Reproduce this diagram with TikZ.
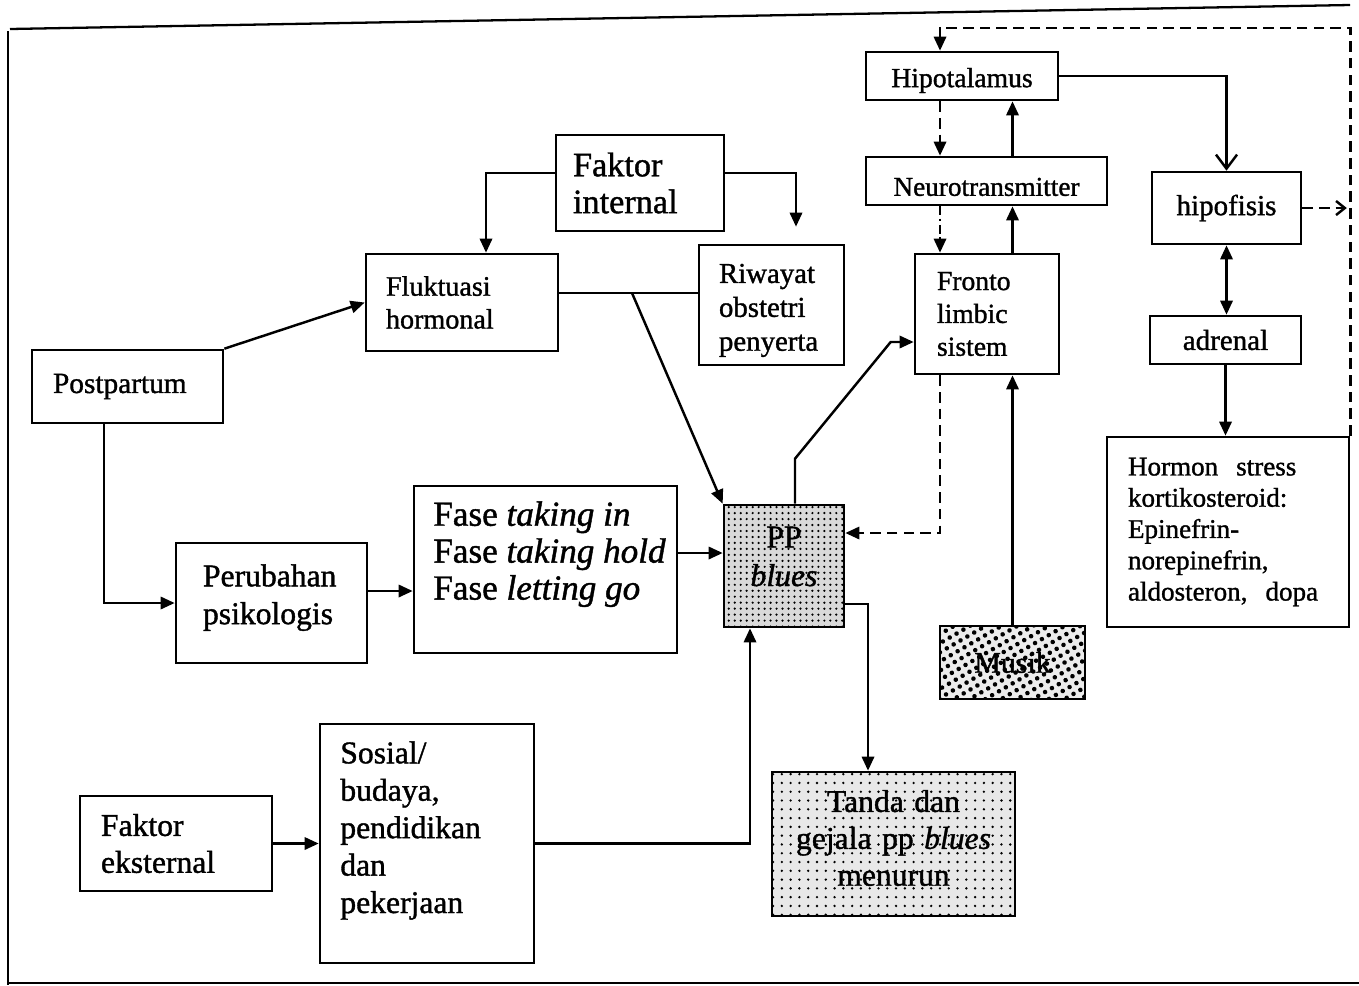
\documentclass[tikz,border=0pt]{standalone}
\usepackage{fontspec}
\setmainfont{Liberation Serif}[UprightFeatures={FakeBold=1.2},ItalicFeatures={FakeBold=1.2}]
\usetikzlibrary{arrows.meta,patterns.meta}
\newcommand\fsz[2]{\fontsize{#1}{#2}\selectfont}
\newcommand\mybox[8][]{%
 \pgfmathsetlengthmacro\bxw{(#5-#3-2*#7)*0.02cm}%
 \pgfmathsetlengthmacro\bxp{#7*0.02cm}%
 \pgfmathsetlengthmacro\bxh{(#6-#4)*0.02cm}%
 \node[box,text width=\bxw,inner xsep=\bxp,minimum height=\bxh,#1] (#2) at ({(#3+#5)/2},{(#4+#6)/2}) {#8};}
\tikzset{
 box/.style={draw, line width=1.5pt, inner ysep=0pt, align=left, fill=white},
 txt/.style={inner sep=0pt, align=left},
 conn/.style={line width=1.4pt},
 arr/.style={conn, -{Triangle[length=8pt,width=7pt]}},
 arrb/.style={conn, {Triangle[length=8pt,width=7pt]}-{Triangle[length=8pt,width=7pt]}},
 openarr/.style={conn, -{Straight Barb[length=8pt,width=12pt,line width=1.4pt]}},
 openarrs/.style={conn, -{Straight Barb[length=5pt,width=8pt,line width=1.4pt]}},
 dsh/.style={dash pattern=on 6pt off 3.5pt},
 ppfill/.style={fill=gray!30, postaction={pattern={Dots[distance=3.4pt,radius=0.7pt]},pattern color=black}},
 mufill/.style={fill=gray!15, postaction={pattern={Dots[distance=4.5pt,radius=1.3pt,angle=30]},pattern color=black}},
 tafill/.style={fill=gray!18, postaction={pattern={Dots[distance=5pt,radius=0.75pt]},pattern color=black}},
}
\begin{document}
\begin{tikzpicture}[x=0.02cm,y=-0.02cm]
\useasboundingbox (0,0) rectangle (1359,985);
% frame
\draw[line width=1.3pt] (10,29) -- (1350,5);
\draw[line width=1.3pt] (8,31) -- (8,985);
\draw[line width=0.9pt] (8,983) -- (1359,983);
% boxes
\mybox[font=\fsz{15.75}{18}, align=center]{hipo}{866}{52}{1058}{100}{4}{\rule{0pt}{16pt}Hipotalamus}
\mybox[font=\fsz{15.5}{18}, align=center]{neuro}{866}{157}{1107}{205}{4}{\rule{0pt}{17pt}Neurotransmitter}
\mybox[font=\fsz{16.5}{19}, align=center]{hipof}{1152}{172}{1301}{244}{4}{hipofisis}
\mybox[font=\fsz{16.5}{19}, align=center]{adr}{1150}{316}{1301}{364}{4}{adrenal}
\mybox[font=\fsz{15.4}{17.8}]{horm}{1107}{437}{1349}{627}{21}{Hormon\ \ stress\\kortikosteroid:\\Epinefrin-\\norepinefrin,\\aldosteron,\ \ dopa}
\mybox[font=\fsz{15.7}{18.7}]{fronto}{915}{254}{1059}{374}{22}{Fronto\\limbic\\sistem}
\mybox[font=\fsz{19.5}{21}]{fint}{556}{135}{724}{231}{17}{Faktor\\internal}
\mybox[font=\fsz{16}{18.7}]{fluk}{366}{254}{558}{351}{20}{Fluktuasi\\hormonal}
\mybox[font=\fsz{16.4}{19.3}]{riw}{699}{245}{844}{365}{20}{\rule{0pt}{17pt}Riwayat\\obstetri\\penyerta}
\mybox[font=\fsz{16.7}{19}]{post}{32}{350}{223}{423}{21}{Postpartum}
\mybox[font=\fsz{18}{21.5}]{peru}{176}{543}{367}{663}{27}{Perubahan\\psikologis\rule[-10pt]{0pt}{0pt}}
\mybox{fase}{414}{486}{677}{653}{19}{}
\node[txt, font=\fsz{20}{21}, anchor=north west] (faseT) at (433,501) {Fase \textit{taking in}\\Fase \textit{taking hold}\\Fase \textit{letting go}};
\mybox[font=\fsz{18}{21}]{fext}{80}{796}{272}{891}{21}{Faktor\\eksternal}
\mybox{sos}{320}{724}{534}{963}{20}{}
\node[txt, font=\fsz{18}{21.3}, anchor=north west] (sosT) at (340,741) {Sosial/\\budaya,\\pendidikan\\dan\\pekerjaan};
\mybox[ppfill, font=\fsz{18}{22}, align=center]{pp}{724}{505}{844}{627}{4}{PP\\\textit{blues}\rule[-11pt]{0pt}{0pt}}
\mybox[mufill, font=\fsz{17}{19}, align=center]{musik}{940}{626}{1085}{699}{4}{Musik}
\mybox[tafill, font=\fsz{18}{21}, align=center]{tanda}{772}{772}{1015}{916}{4}{Tanda dan\\gejala pp \textit{blues}\\menurun\rule[-7pt]{0pt}{0pt}}
% helper coordinates
\coordinate (top) at (940,28);
\coordinate (xd) at ([xshift=-0.94cm]fronto.south);
\coordinate (f1) at ([yshift=0.19cm]fluk.east);
\coordinate (f2) at (632,293);
\coordinate (p1) at ([yshift=0.24cm]peru.east);
\coordinate (p2) at ([yshift=0.33cm]fase.east);
\coordinate (fr1) at ([yshift=-0.56cm]fronto.west);
\coordinate (pe) at ([yshift=0.66cm]pp.east);
\coordinate (pe2) at ([yshift=-0.76cm]pp.east);
% connectors
\draw[arr] (post.north east) -- (fluk.west);
\draw[arr] ([yshift=0.2cm]fint.west) -| ([xshift=0.48cm]fluk.north);
\draw[arr, shorten >=0.34cm] ([yshift=0.2cm]fint.east) -| ([xshift=0.49cm]riw.north);
\draw[conn] (f1) -- (f1 -| riw.west);
\draw[arr] (f2) -- (pp.north west);
\draw[arr] ([xshift=-0.47cm]post.south) |- (peru.west);
\draw[arr] (p1) -- (p1 -| fase.west);
\draw[arr] (p2) -- (p2 -| pp.west);
\draw[arr] (fext.east) -- (sos.west);
\draw[arr] (sos.east) -| ([xshift=-0.68cm]pp.south);
\draw[arr] ([xshift=0.22cm]pp.north) -- ++(0,-45) -- ([xshift=-0.46cm]fr1) -- (fr1);
\draw[arr, dsh] (xd) |- (pe);
\draw[arr] (pe2) -| ([xshift=-0.51cm]tanda.north);
\draw[arr] (musik.north) -- (musik.north |- fronto.south);
\draw[arr] (musik.north |- fronto.north) -- (musik.north |- neuro.south);
\draw[arr] (musik.north |- neuro.north) -- (musik.north |- hipo.south);
\draw[arr, dsh] (xd |- hipo.south) -- (xd |- neuro.north);
\draw[arr, dash pattern=on 5pt off 2pt on 1.5pt off 2pt] (xd |- neuro.south) -- (xd |- fronto.north);
\draw[openarr] (hipo.east) -| (hipof.north);
\draw[arrb] (hipof.south) -- (hipof.south |- adr.north);
\draw[arr] (adr.south) -- (adr.south |- horm.north);
\draw[arr, dsh] (horm.north east) -- (horm.north east |- top) -| (xd |- hipo.north);
\draw[openarrs, dsh, shorten >=2pt] (hipof.east) -- (hipof.east -| horm.east);
\end{tikzpicture}
\end{document}
